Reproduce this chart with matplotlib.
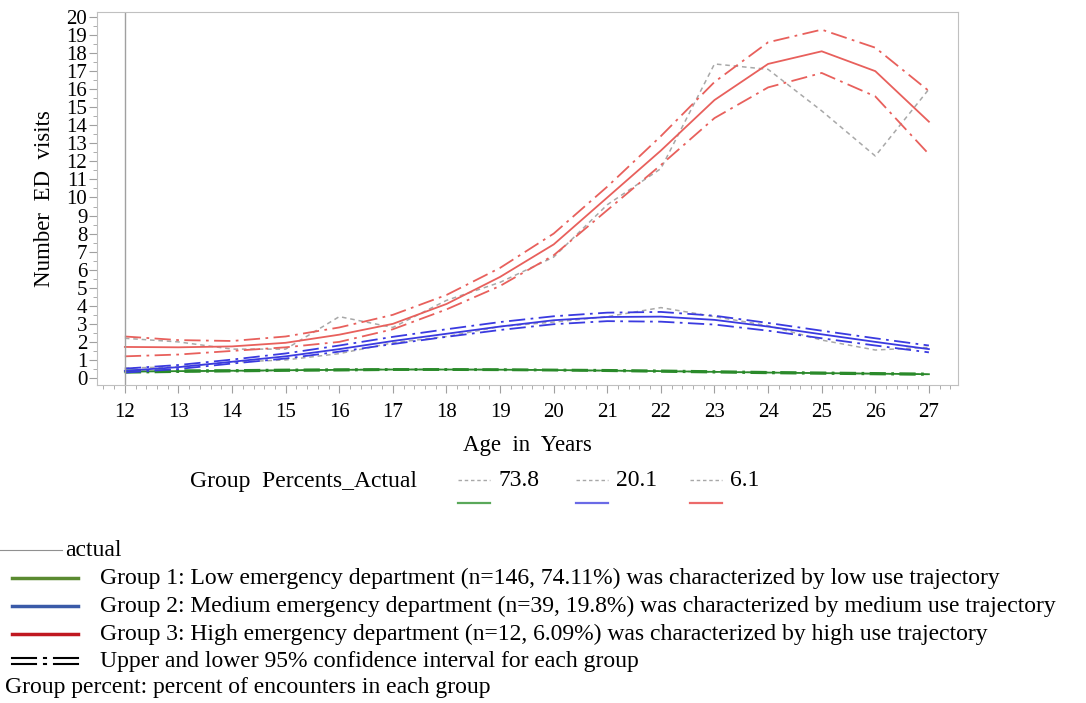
import matplotlib
matplotlib.use("Agg")
import matplotlib.pyplot as plt
from matplotlib.lines import Line2D
from matplotlib.ticker import MultipleLocator
import numpy as np

# Data
age = np.arange(12, 28)

g1_pred = [0.35, 0.38, 0.40, 0.43, 0.45, 0.47, 0.47, 0.46, 0.44, 0.41, 0.38, 0.34, 0.30, 0.27, 0.24, 0.21]
g1_upper = [0.42, 0.43, 0.44, 0.47, 0.49, 0.50, 0.50, 0.49, 0.47, 0.45, 0.42, 0.38, 0.34, 0.31, 0.28, 0.25]
g1_lower = [0.29, 0.33, 0.36, 0.39, 0.41, 0.44, 0.44, 0.43, 0.41, 0.38, 0.34, 0.30, 0.26, 0.23, 0.20, 0.17]
g1_actual = [0.40, 0.36, 0.38, 0.42, 0.46, 0.48, 0.47, 0.47, 0.43, 0.40, 0.39, 0.33, 0.31, 0.27, 0.24, 0.20]

g2_pred = [0.40, 0.60, 0.90, 1.20, 1.60, 2.05, 2.45, 2.85, 3.20, 3.38, 3.40, 3.22, 2.85, 2.42, 2.00, 1.60]
g2_upper = [0.52, 0.72, 1.02, 1.36, 1.80, 2.28, 2.70, 3.10, 3.42, 3.62, 3.66, 3.45, 3.05, 2.62, 2.20, 1.80]
g2_lower = [0.30, 0.50, 0.80, 1.08, 1.46, 1.88, 2.28, 2.66, 2.98, 3.15, 3.12, 2.96, 2.62, 2.20, 1.80, 1.42]
g2_actual = [0.55, 0.62, 0.88, 1.00, 1.35, 1.95, 2.30, 2.85, 3.10, 3.40, 3.90, 3.40, 2.90, 2.10, 1.55, 1.70]

g3_pred = [1.72, 1.70, 1.75, 1.95, 2.40, 3.00, 4.10, 5.60, 7.40, 10.0, 12.6, 15.4, 17.4, 18.1, 17.0, 14.2]
g3_upper = [2.30, 2.10, 2.05, 2.30, 2.80, 3.50, 4.60, 6.10, 8.00, 10.6, 13.4, 16.4, 18.6, 19.3, 18.3, 15.9]
g3_lower = [1.20, 1.30, 1.50, 1.70, 2.00, 2.70, 3.80, 5.10, 6.80, 9.30, 11.8, 14.4, 16.1, 16.9, 15.6, 12.4]
g3_actual = [2.20, 2.00, 1.60, 1.60, 3.40, 2.80, 4.30, 5.30, 6.70, 9.60, 11.6, 17.4, 17.1, 14.8, 12.3, 16.0]

pct_labels = ['73.8', '20.1', '6.1']
colors = ['#2a8a2a', '#3a3ae0', '#e8605c']
sample_colors = ['#5aa85a', '#6a6ae6', '#ec6a6a']
key_colors = ['#5a8a30', '#3a5aa8', '#c01820']

notes = ['Group 1: Low emergency department (n=146, 74.11%) was characterized by low use trajectory',
         'Group 2: Medium emergency department (n=39, 19.8%) was characterized by medium use trajectory',
         'Group 3: High emergency department (n=12, 6.09%) was characterized by high use trajectory']

serif = ['Liberation Serif', 'DejaVu Serif']

fig = plt.figure(figsize=(10.86, 7.03), dpi=100)
ax = fig.add_axes([0.0893, 0.4523, 0.7927, 0.5307])

ci_style = (0, (9, 3, 1.5, 3))
act_style = (0, (3, 2.5))
groups = [(g1_pred, g1_upper, g1_lower, g1_actual),
          (g2_pred, g2_upper, g2_lower, g2_actual),
          (g3_pred, g3_upper, g3_lower, g3_actual)]
for (pred, up, lo, act), c in zip(groups, colors):
    ax.plot(age, act, color='#a8a8a8', lw=1.1, linestyle=act_style)
    ax.plot(age, up, color=c, lw=1.3, linestyle=ci_style)
    ax.plot(age, lo, color=c, lw=1.3, linestyle=ci_style)
    ax.plot(age, pred, color=c, lw=1.3)

ax.axvline(12, color='#a0a0a0', lw=1.0)

ax.set_xlim(11.48, 27.54)
ax.set_ylim(-0.39, 20.28)
ax.set_xticks(age)
ax.set_yticks(np.arange(0, 21))
ax.xaxis.set_minor_locator(MultipleLocator(0.2))
ax.yaxis.set_minor_locator(MultipleLocator(0.5))
for s in ax.spines.values():
    s.set_color('#c0c0c0')
ax.tick_params(which='both', color='#a0a0a0', direction='out')
ax.tick_params(which='major', length=6)
ax.tick_params(which='minor', length=3)
ax.tick_params(axis='y', pad=1)
ax.tick_params(axis='x', pad=7)
for lab in ax.get_xticklabels() + ax.get_yticklabels():
    lab.set_family(serif)
    lab.set_fontsize(15)
    lab.set_fontstretch('condensed')

ax.set_xlabel('Age  in  Years', family=serif, fontsize=16.5, labelpad=9)
ax.set_ylabel('Number  ED  visits', family=serif, fontsize=16.5, labelpad=8)

# group legend under the axes
def fx(px):
    return px / 1086

def fy(py):
    return 1 - py / 703

fig.text(fx(190), fy(481), 'Group  Percents_Actual', family=serif, fontsize=17, va='center')
lx = [458, 576, 690]
for x0, lab, sc in zip(lx, pct_labels, sample_colors):
    fig.add_artist(Line2D([fx(x0), fx(x0 + 32)], [fy(480), fy(480)], color='#a8a8a8',
                          lw=1.0, linestyle=(0, (2.5, 2))))
    fig.add_artist(Line2D([fx(x0), fx(x0 + 32)], [fy(503), fy(503)], color=sc, lw=1.6))
    fig.text(fx(x0 + 40), fy(481), lab, family=serif, fontsize=17, va='center')

# key and notes
fig.add_artist(Line2D([fx(0), fx(62)], [fy(550), fy(550)], color='#909090', lw=0.8))
fig.text(fx(65), fy(550), 'actual', family=serif, fontsize=17, va='center')
ys = [578, 606, 634]
for y, kc, note in zip(ys, key_colors, notes):
    fig.add_artist(Line2D([fx(12), fx(78)], [fy(y), fy(y)], color=kc, lw=2.5))
    fig.text(fx(100), fy(y), note, family=serif, fontsize=17, va='center')
for dy in (-3, 3):
    fig.add_artist(Line2D([fx(12), fx(36)], [fy(661 + dy), fy(661 + dy)], color='black', lw=1.5))
    fig.add_artist(Line2D([fx(54), fx(78)], [fy(661 + dy), fy(661 + dy)], color='black', lw=1.5))
    fig.add_artist(Line2D([fx(44), fx(46)], [fy(661 + dy), fy(661 + dy)], color='black', lw=1.5))
fig.text(fx(100), fy(661), 'Upper and lower 95% confidence interval for each group',
         family=serif, fontsize=17, va='center')
fig.text(fx(5), fy(688), 'Group percent: percent of encounters in each group',
         family=serif, fontsize=17, va='center')

fig.savefig('out.png', dpi=100)
